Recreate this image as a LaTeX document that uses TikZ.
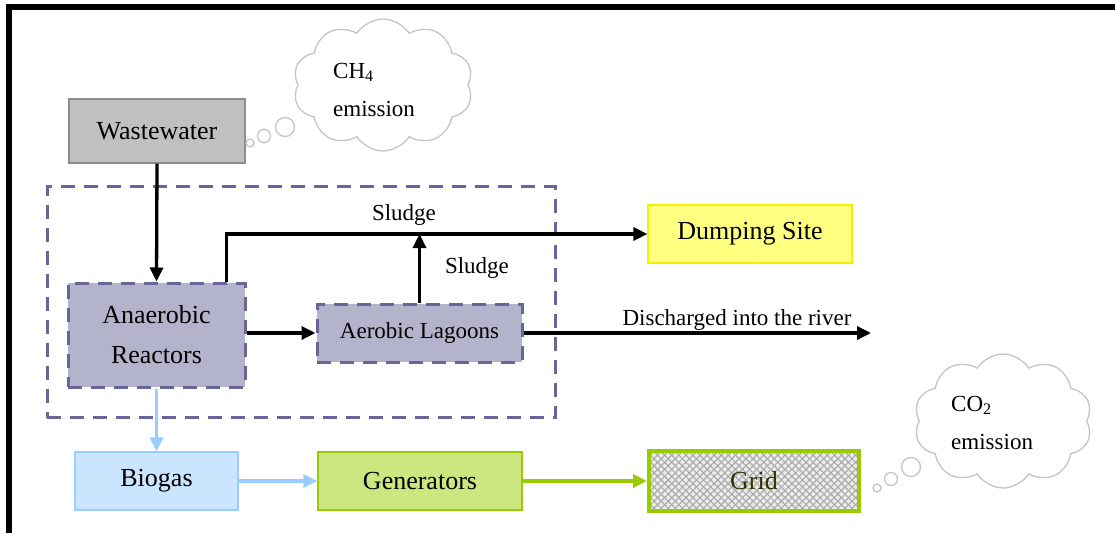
\documentclass[tikz,border=0pt]{standalone}
\usepackage{fontspec}
\setmainfont{Liberation Serif}
\usetikzlibrary{arrows.meta,shapes.symbols,patterns.meta,calc}

\definecolor{slate}{HTML}{666699}
\definecolor{lav}{HTML}{B3B3CC}
\definecolor{wwfill}{HTML}{C0C0C0}
\definecolor{wwedge}{HTML}{8C8C8C}
\definecolor{dsfill}{HTML}{FFFF80}
\definecolor{dsedge}{HTML}{F2F200}
\definecolor{bgfill}{HTML}{CCE5FF}
\definecolor{bgedge}{HTML}{99CCFF}
\definecolor{genfill}{HTML}{CCE680}
\definecolor{leaf}{HTML}{99CC00}
\definecolor{gridtext}{HTML}{333300}
\definecolor{cloudedge}{HTML}{C4C4C4}

\tikzset{
  boxtext/.style={font=\fontsize{26}{40}\selectfont},
  lbl/.style={font=\fontsize{23}{27}\selectfont, inner sep=0pt},
  box/.style={rectangle, inner sep=0pt, align=center, boxtext},
  dashbox/.style={draw=slate, line width=3pt, dash pattern=on 14pt off 9pt},
  arr/.style={-{Triangle[length=14pt,width=13pt]}, line width=3.3pt},
  bluearr/.style={arr, draw=bgedge},
  greenarr/.style={arr, draw=leaf, line width=3.6pt},
  puff/.style={cloud, cloud puffs=10, cloud puff arc=115, draw=cloudedge, line width=1.3pt, inner sep=0pt},
  bub/.style={circle, draw=cloudedge, line width=1.3pt, inner sep=0pt},
}

\begin{document}
\begin{tikzpicture}[x=1pt, y=-1pt]
\useasboundingbox (0,0) rectangle (1115,533);

% outer frame (top and left edges)
\draw[line width=6pt] (9,533) -- (9,7) -- (1115,7);

% treatment plant boundary
\node[dashbox, minimum width=508pt, minimum height=231pt] (plant) at (301,302) {};

% process boxes
\node[box, fill=wwfill, draw=wwedge, line width=1.2pt, minimum width=176pt, minimum height=64pt] (ww) at (157,131) {Wastewater};
\node[box, fill=lav, dashbox, minimum width=177pt, minimum height=104pt] (an) at (156.5,335) {Anaerobic\\Reactors};
\node[box, fill=lav, dashbox, minimum width=205pt, minimum height=58pt, font=\fontsize{23}{27}\selectfont] (ae) at (419.5,333) {Aerobic Lagoons};
\node[box, fill=dsfill, draw=dsedge, line width=1.2pt, minimum width=204pt, minimum height=58pt] (ds) at (750,234) {Dumping Site};
\node[box, fill=bgfill, draw=bgedge, line width=1.2pt, minimum width=163pt, minimum height=58pt] (bg) at (156.5,481) {Biogas};
\node[box, fill=genfill, draw=leaf, line width=1.5pt, minimum width=204pt, minimum height=58pt] (gen) at (420,481) {Generators};
\node[box, draw=leaf, line width=4pt, minimum width=210pt, minimum height=60pt, text=gridtext,
  preaction={fill=gray!15},
  preaction={pattern={Lines[angle=45,distance=5pt,line width=1.2pt]}, pattern color=gray!65},
  preaction={pattern={Lines[angle=-45,distance=5pt,line width=1.2pt]}, pattern color=gray!65}] (grid) at (754,481) {Grid};

% emission clouds and their thought bubbles
\node[puff, minimum width=180pt, minimum height=132pt, aspect=1.36] (ch4) at (383,85) {};
\node[bub, minimum size=8pt] (b1) at (250,143) {};
\node[bub, minimum size=13pt] (b2) at (264,136) {};
\node[bub, minimum size=19pt] (b3) at (285,127) {};
\node[lbl, anchor=base west] (ch4a) at (333,78) {CH\textsubscript{4}};
\node[lbl, anchor=base west] (ch4b) at (333,116) {emission};

\node[puff, minimum width=178pt, minimum height=134pt, aspect=1.33] (co2) at (1003,421) {};
\node[bub, minimum size=8pt] (c1) at (877,488) {};
\node[bub, minimum size=13pt] (c2) at (891,479) {};
\node[bub, minimum size=19pt] (c3) at (911,467) {};
\node[lbl, anchor=base west] (co2a) at (951,411) {CO\textsubscript{2}};
\node[lbl, anchor=base west] (co2b) at (951,449) {emission};

% flows
\draw[arr] (ww.south) -- (an.north);
\coordinate (slup) at ($(an.north east)+(-20,0)$);
\draw[arr] (slup) |- (ds.west);
\draw[arr] (ae.north) -- (ae.north |- ds.west);
\draw[arr] (an.east |- ae.west) -- (ae.west);
\coordinate (river) at (871,333);
\draw[arr] (ae.east) -- (river);
\draw[bluearr] (an.south) -- (bg.north);
\draw[bluearr] (bg.east) -- (gen.west);
\draw[greenarr] (gen.east) -- (grid.west);

% flow labels
\node[lbl, anchor=base] (s1) at (404,220) {Sludge};
\node[lbl, anchor=base] (s2) at (477,273) {Sludge};
\node[lbl, anchor=base] (dis) at (737,325) {Discharged into the river};
\end{tikzpicture}
\end{document}
